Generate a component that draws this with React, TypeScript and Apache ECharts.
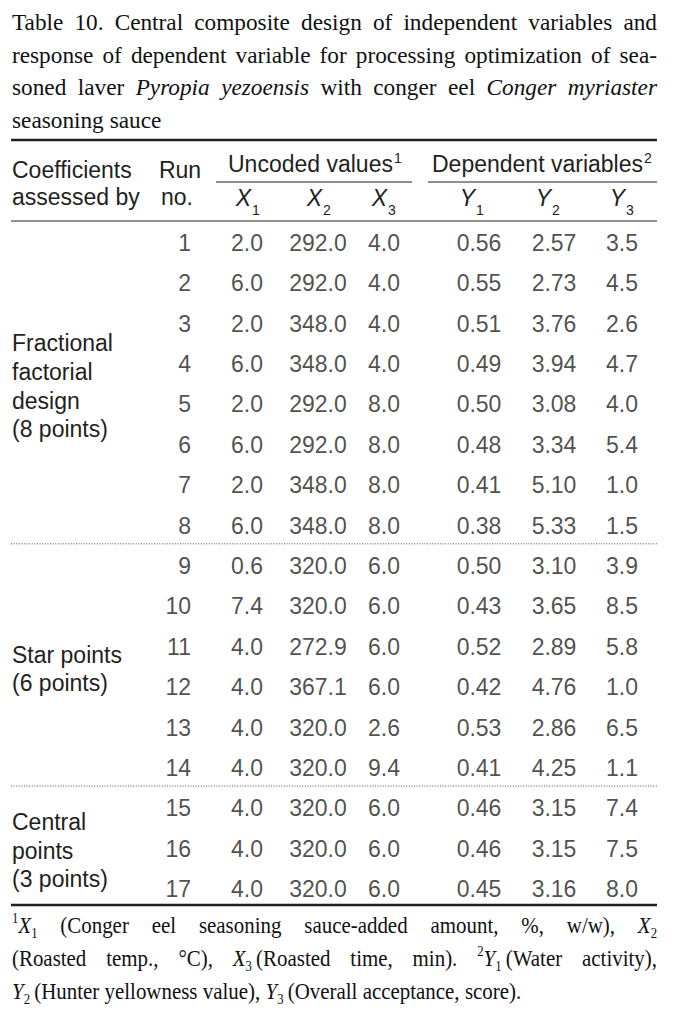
import React, { useEffect, useRef } from "react";
import * as echarts from "echarts";

// ---------- data ----------
const RUNS = ["1","2","3","4","5","6","7","8","9","10","11","12","13","14","15","16","17"];
const X1 = [2.0, 6.0, 2.0, 6.0, 2.0, 6.0, 2.0, 6.0, 0.6, 7.4, 4.0, 4.0, 4.0, 4.0, 4.0, 4.0, 4.0];
const X2 = [292.0, 292.0, 348.0, 348.0, 292.0, 292.0, 348.0, 348.0, 320.0, 320.0, 272.9, 367.1, 320.0, 320.0, 320.0, 320.0, 320.0];
const X3 = [4.0, 4.0, 4.0, 4.0, 8.0, 8.0, 8.0, 8.0, 6.0, 6.0, 6.0, 6.0, 2.6, 9.4, 6.0, 6.0, 6.0];
const Y1 = [0.56, 0.55, 0.51, 0.49, 0.50, 0.48, 0.41, 0.38, 0.50, 0.43, 0.52, 0.42, 0.53, 0.41, 0.46, 0.46, 0.45];
const Y2 = [2.57, 2.73, 3.76, 3.94, 3.08, 3.34, 5.10, 5.33, 3.10, 3.65, 2.89, 4.76, 2.86, 4.25, 3.15, 3.15, 3.16];
const Y3 = [3.5, 4.5, 2.6, 4.7, 4.0, 5.4, 1.0, 1.5, 3.9, 8.5, 5.8, 1.0, 6.5, 1.1, 7.4, 7.5, 8.0];
const DECIMALS = [1, 1, 1, 2, 2, 1];

const GROUP_LABELS = [
  ["Fractional", "factorial", "design", "(8 points)"],
  ["Star points", "(6 points)"],
  ["Central", "points", "(3 points)"],
];
const GROUP_FROM = ["1", "9", "15"];
const GROUP_TO = ["8", "14", "17"];

const HEAD_LEFT = ["Coefficients", "assessed by"];
const HEAD_RUN = ["Run", "no."];
const HEAD_SPAN = ["Uncoded values", "Dependent variables"];
const HEAD_SPAN_SUP = ["1", "2"];
const HEAD_VARS = [["X", "1"], ["X", "2"], ["X", "3"], ["Y", "1"], ["Y", "2"], ["Y", "3"]];

// markup: words split by spaces, segments by "|", "*" italic, "_" subscript, "^" superscript
const TITLE = [
  "Table 10. Central composite design of independent variables and",
  "response of dependent variable for processing optimization of sea-",
  "soned laver *Pyropia *yezoensis with conger eel *Conger *myriaster",
  "seasoning sauce",
];
const FOOT = [
  "^1|*X|_1 (Conger eel seasoning sauce-added amount, %, w/w), *X|_2",
  "(Roasted temp., °C), *X|_3|\u2009(Roasted time, min). ^2|*Y|_1|\u2009(Water activity),",
  "*Y|_2|\u2009(Hunter yellowness value), *Y|_3|\u2009(Overall acceptance, score).",
];

// ---------- layout ----------
const W = 678;
const H = 1010;
const SANS = '"Liberation Sans", Arial, sans-serif';
const SERIF = '"Liberation Serif", "Times New Roman", serif';
const INK = "#231f20";
const COL_X = [191, 247, 318, 384, 479, 554, 622];
const HEAD_VAR_X = [247, 318, 383, 471, 547, 621];
const LEFT = 11;
const RIGHT = 657;

type Seg = { t: string; i?: boolean; sub?: boolean; sup?: boolean };

let ctx: CanvasRenderingContext2D | null = null;
function measure(text: string, font: string) {
  if (!ctx) ctx = document.createElement("canvas").getContext("2d");
  ctx!.font = font;
  return ctx!.measureText(text).width;
}
function parseWord(w: string): Seg[] {
  return w.split("|").map((p) => {
    if (p.startsWith("*")) return { t: p.slice(1), i: true };
    if (p.startsWith("_")) return { t: p.slice(1), sub: true };
    if (p.startsWith("^")) return { t: p.slice(1), sup: true };
    return { t: p };
  });
}
function segFont(s: Seg, size: number, fam: string) {
  const sz = s.sub || s.sup ? Math.round(size * 0.62) : size;
  return `${s.i ? "italic " : ""}${sz}px ${fam}`;
}
function textEl(text: string, x: number, y: number, font: string, align: string, color = INK, sx = 1) {
  return {
    type: "text",
    x,
    y,
    scaleX: sx,
    silent: true,
    style: {
      text,
      font,
      fill: color,
      align,
      textAlign: align,
      verticalAlign: "middle",
      textVerticalAlign: "middle",
    },
  };
}
function lineEls(line: string, x0: number, y: number, width: number, size: number, fam: string, justify: boolean, color: string, sx: number) {
  const words = line.split(" ").map(parseWord);
  const ww = words.map((w) => w.reduce((a, s) => a + measure(s.t, segFont(s, size, fam)) * sx, 0));
  const total = ww.reduce((a, b) => a + b, 0);
  const gap = justify && words.length > 1 ? (width - total) / (words.length - 1) : measure(" ", `${size}px ${fam}`) * sx;
  const els: any[] = [];
  let x = x0;
  words.forEach((w, k) => {
    let cx = x;
    w.forEach((s) => {
      const f = segFont(s, size, fam);
      const dy = s.sub ? size * 0.36 : s.sup ? -size * 0.3 : 0;
      els.push(textEl(s.t, cx, y + dy, f, "left", color, sx));
      cx += measure(s.t, f) * sx;
    });
    x += ww[k] + gap;
  });
  return els;
}
function hline(x1: number, x2: number, y: number, w: number, dash?: number[], color = INK) {
  return {
    type: "line",
    silent: true,
    shape: { x1, y1: y, x2, y2: y },
    style: { stroke: color, lineWidth: w, lineDash: dash },
  };
}

export default function App() {
  const ref = useRef<HTMLDivElement>(null);
  useEffect(() => {
    document.body.style.margin = "0";
    const chart = echarts.init(ref.current!, undefined, { renderer: "svg" });
    const cols = [RUNS, ...[X1, X2, X3, Y1, Y2, Y3].map((arr, c) => arr.map((v) => v.toFixed(DECIMALS[c])))];
    chart.setOption({
      animation: false,
      backgroundColor: "#ffffff",
      grid: { left: 0, right: 0, top: 222.8, height: 686.4 },
      xAxis: { type: "value", min: 0, max: W, show: false },
      yAxis: { type: "category", data: RUNS, inverse: true, show: false },
      series: cols.map((vals, ci) => ({
        type: "scatter",
        silent: true,
        symbolSize: 1,
        itemStyle: { color: "transparent" },
        data: vals.map((_, i) => [COL_X[ci], RUNS[i]]),
        label: {
          show: true,
          position: "inside",
          align: ci === 0 ? "right" : "center",
          verticalAlign: "middle",
          formatter: (p: any) => vals[p.dataIndex],
          fontSize: 23,
          fontFamily: SANS,
          color: INK,
        },
        emphasis: { disabled: true },
      })),
    });

    const rowY = (r: string) => chart.convertToPixel({ yAxisIndex: 0 } as any, r) as unknown as number;
    const g: any[] = [];
    // title
    const titleY = [22, 54.5, 87, 119.5];
    TITLE.forEach((l, k) => g.push(...lineEls(l, 12, titleY[k], 645, 24, SERIF, k < TITLE.length - 1, "#111", 0.97)));
    // rules
    g.push(hline(LEFT, RIGHT, 140, 2.6));
    g.push(hline(216, 412, 182, 1));
    g.push(hline(428, RIGHT, 182, 1));
    g.push(hline(LEFT, RIGHT, 221, 1));
    g.push(hline(LEFT, RIGHT, 905, 2.6));
    GROUP_TO.slice(0, -1).forEach((r, k) => {
      const y = (rowY(r) + rowY(GROUP_FROM[k + 1])) / 2 - 2;
      g.push(hline(LEFT, RIGHT, y, 1, [1, 1.6], "#555"));
    });
    // header
    const hf = `23px ${SANS}`;
    HEAD_LEFT.forEach((t, k) => g.push(textEl(t, 12, [170, 197][k], hf, "left")));
    HEAD_RUN.forEach((t, k) => g.push(textEl(t, [180, 177][k], [170, 197][k], hf, "center")));
    const spanX = [228, 432];
    HEAD_SPAN.forEach((t, k) => {
      g.push(textEl(t, spanX[k], 164, hf, "left"));
      g.push(textEl(HEAD_SPAN_SUP[k], spanX[k] + measure(t, hf) + 1, 158, `14px ${SANS}`, "left"));
    });
    HEAD_VARS.forEach(([v, s], k) => {
      g.push(textEl(v, HEAD_VAR_X[k] + 4, 198, `italic 23px ${SANS}`, "right"));
      g.push(textEl(s, HEAD_VAR_X[k] + 5, 210, `14px ${SANS}`, "left"));
    });
    // group labels
    GROUP_LABELS.forEach((lines, k) => {
      const cy = (rowY(GROUP_FROM[k]) + rowY(GROUP_TO[k])) / 2 + 2;
      const step = 28.6;
      lines.forEach((t, j) => g.push(textEl(t, 12, cy + (j - (lines.length - 1) / 2) * step, hf, "left")));
    });
    // footnote
    const footY = [925, 958, 991];
    FOOT.forEach((l, k) => g.push(...lineEls(l, 12, footY[k], 645, 23, SERIF, k < FOOT.length - 1, "#111", 0.91)));

    chart.setOption({ graphic: { elements: g } });
    return () => chart.dispose();
  }, []);
  return <div ref={ref} style={{ width: W, height: H, background: "#fff" }} />;
}
